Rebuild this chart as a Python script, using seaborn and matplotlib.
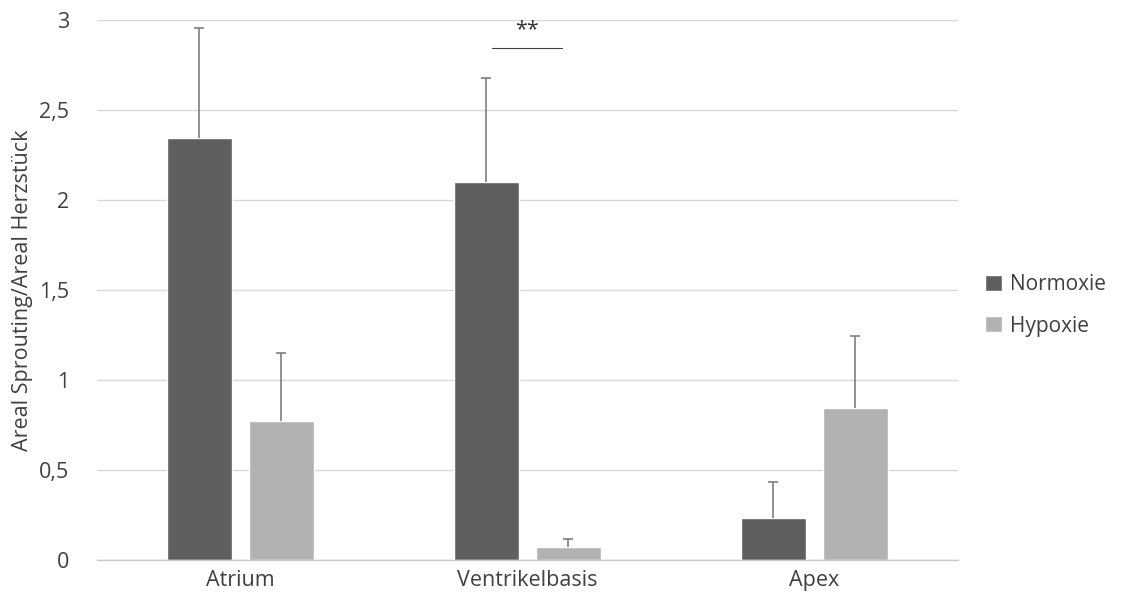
import matplotlib
matplotlib.use("Agg")
import matplotlib.pyplot as plt
import seaborn as sns
import pandas as pd
import numpy as np

categories = ["Atrium", "Ventrikelbasis", "Apex"]
groups = ["Normoxie", "Hypoxie"]
normoxie = [2.345, 2.10, 0.235]
hypoxie = [0.77, 0.07, 0.847]
normoxie_err = [0.61, 0.58, 0.197]
hypoxie_err = [0.38, 0.047, 0.40]
y_ticks = [0, 0.5, 1, 1.5, 2, 2.5, 3]
y_tick_labels = ["0", "0,5", "1", "1,5", "2", "2,5", "3"]
colors = {"Normoxie": "#5f5f5f", "Hypoxie": "#b2b2b2"}

df = pd.DataFrame({
    "Region": categories * 2,
    "Gruppe": ["Normoxie"] * 3 + ["Hypoxie"] * 3,
    "Wert": normoxie + hypoxie,
    "Fehler": normoxie_err + hypoxie_err,
})

sns.set_theme(style="white")
plt.rcParams["font.family"] = ["Open Sans", "DejaVu Sans"]

FS = 15.5
TXT = "#404040"

fig = plt.figure(figsize=(11.21, 6.08), dpi=100)
ax = fig.add_axes([0.0865, 0.079, 0.768, 0.888])

sns.barplot(data=df, x="Region", y="Wert", hue="Gruppe", order=categories,
            hue_order=groups, palette=colors, width=0.572, gap=0.21,
            errorbar=None, saturation=1, ax=ax, legend=True)

# error bars (upper only, cap at top only)
for container, g in zip(ax.containers, groups):
    sub = df[df["Gruppe"] == g].set_index("Region").loc[categories]
    vals = sub["Wert"].values
    errs = sub["Fehler"].values
    xs = np.array([p.get_x() + p.get_width() / 2 for p in container.patches])
    tops = vals + errs
    ax.vlines(xs, vals, tops, color="#7f7f7f", linewidth=1.2, zorder=3)
    ax.plot(xs, tops, linestyle="none", marker="_", markersize=7,
            markeredgewidth=1.2, color="#7f7f7f", zorder=3)

ax.set_ylim(0, 3)
ax.set_xlim(-0.5, 2.5)
ax.set_yticks(y_ticks)
ax.set_yticklabels(y_tick_labels, fontsize=FS, color=TXT)
ax.tick_params(axis="x", labelsize=FS, colors=TXT, length=0, pad=7)
ax.tick_params(axis="y", length=0, pad=20)
ax.set_xticks([-0.5, 0.5, 1.5, 2.5], minor=True)
ax.tick_params(axis="x", which="minor", length=7, width=1, color="#c8c8c8", direction="out")
ax.yaxis.grid(True, color="#d9d9d9", linewidth=1)
ax.set_axisbelow(True)
for s in ["top", "right", "left"]:
    ax.spines[s].set_visible(False)
ax.spines["bottom"].set_color("#c8c8c8")
ax.spines["bottom"].set_linewidth(1)
ax.set_xlabel("")
ax.set_ylabel("Areal Sprouting/Areal Herzstück", fontsize=FS, color=TXT, labelpad=4)

# significance marker
ax.plot([0.877, 1.12], [2.842, 2.842], color="#404040", linewidth=0.8)
ax.text(1.0, 2.89, "**", ha="center", va="bottom", fontsize=FS, color="#303030")

leg = ax.legend(loc="center left", bbox_to_anchor=(0.862, 0.498), bbox_transform=fig.transFigure,
                frameon=False, fontsize=15, handlelength=0.8, handleheight=0.8,
                handletextpad=0.4, labelspacing=1.0)
for t in leg.get_texts():
    t.set_color(TXT)

fig.savefig("out.png", dpi=100)
